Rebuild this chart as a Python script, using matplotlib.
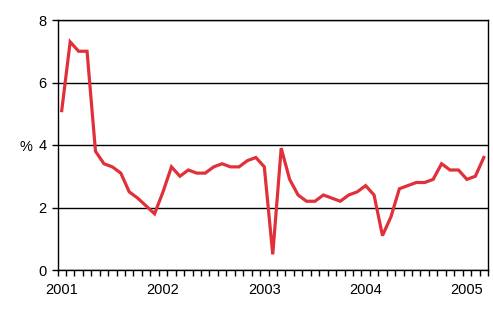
import matplotlib
matplotlib.use("Agg")
import matplotlib.pyplot as plt
import numpy as np

plt.rcParams['font.family'] = ['Liberation Sans', 'DejaVu Sans']

# Monthly values, Jan 2001 .. Mar 2005 (%)
values = [5.1, 7.3, 7.0, 7.0, 3.8, 3.4, 3.3, 3.1, 2.5, 2.3, 2.05, 1.8,
          2.5, 3.3, 3.0, 3.2, 3.1, 3.1, 3.3, 3.4, 3.3, 3.3, 3.5, 3.6,
          3.3, 0.5, 3.9, 2.9, 2.4, 2.2, 2.2, 2.4, 2.3, 2.2, 2.4, 2.5,
          2.7, 2.4, 1.1, 1.7, 2.6, 2.7, 2.8, 2.8, 2.9, 3.4, 3.2, 3.2,
          2.9, 3.0, 3.6]
year_labels = ['2001', '2002', '2003', '2004', '2005']
y_ticks = [0, 2, 4, 6, 8]

fig = plt.figure(figsize=(4.93, 3.30), dpi=100)
ax = fig.add_axes([57.5 / 493, 1 - 270 / 330, (488 - 57.5) / 493, 250 / 330])

x = np.arange(len(values))
ax.plot(x, values, color='#e0303a', lw=2.3, solid_joinstyle='miter', zorder=3)

ax.set_xlim(-0.5, len(values) - 0.5)
ax.set_ylim(0, 8)

# month boundary ticks
ax.set_xticks(np.arange(-0.5, len(values), 1.0))
ax.set_xticklabels([])
ax.tick_params(axis='x', which='major', length=4, width=1, direction='out', color='black')
# year labels at January centres
ax.set_xticks(np.arange(0, len(values), 12), minor=True)
ax.set_xticklabels(year_labels, minor=True)
ax.tick_params(axis='x', which='minor', length=0, pad=9, labelsize=10.5)

ax.set_yticks(y_ticks)
ax.set_yticklabels([str(t) for t in y_ticks])
ax.tick_params(axis='y', length=4, width=1, direction='out', pad=4, labelsize=10.5)
ax.yaxis.grid(True, color='black', lw=1)
ax.set_axisbelow(True)

for s in ax.spines.values():
    s.set_color('black')
    s.set_linewidth(1)

fig.text(32 / 493, 1 - 147 / 330, '%', fontsize=10.5, ha='right', va='center')

fig.savefig('out.png', dpi=100, facecolor='white')
